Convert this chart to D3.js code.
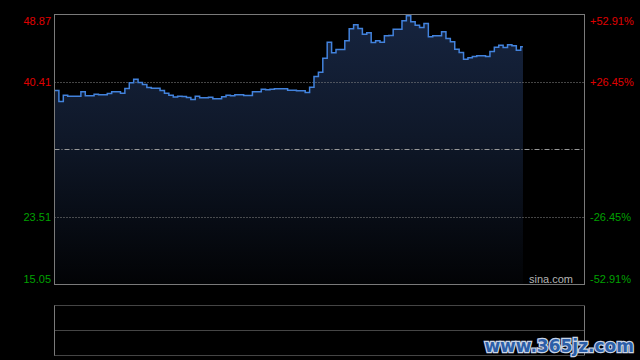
<!DOCTYPE html>
<html>
<head>
<meta charset="utf-8">
<script src="https://cdn.jsdelivr.net/npm/d3@7/dist/d3.min.js"></script>
<style>
  html, body { margin: 0; padding: 0; background: #000; }
  svg { display: block; }
</style>
</head>
<body>
<div id="chart"></div>
<script>
// 价格数据（每2分钟一个点）
const prices = [
  39.35, 37.98, 38.76, 38.64, 38.64, 38.64, 39.19, 38.69, 38.69, 38.89,
  38.81, 38.81, 38.97, 39.19, 39.19, 39.01, 39.60, 40.32, 40.77, 40.35,
  40.10, 39.73, 39.64, 39.64, 39.35, 39.01, 38.76, 38.55, 38.64, 38.60,
  38.47, 38.22, 38.64, 38.44, 38.44, 38.51, 38.31, 38.31, 38.57, 38.76,
  38.69, 38.81, 38.81, 38.73, 38.73, 39.19, 39.19, 39.51, 39.44, 39.51,
  39.56, 39.56, 39.56, 39.39, 39.39, 39.31, 39.31, 39.10, 39.76, 41.10,
  41.64, 43.40, 45.40, 44.07, 44.49, 44.49, 45.58, 47.08, 47.58, 47.12,
  46.40, 46.58, 45.36, 45.58, 45.40, 46.20, 46.24, 47.03, 47.03, 48.08,
  48.70, 47.96, 47.53, 47.24, 47.74, 46.08, 46.20, 46.20, 46.70, 45.86,
  45.45, 44.52, 44.11, 43.27, 43.45, 43.61, 43.70, 43.70, 43.61, 44.24,
  44.78, 45.03, 44.74, 45.07, 44.95, 44.40, 44.83
];
const basePrice = 31.96;
const priceTicks = [48.87, 40.41, 23.51, 15.05];
const priceLabels = ["48.87", "40.41", "23.51", "15.05"];
const pctLabels = ["+52.91%", "+26.45%", "-26.45%", "-52.91%"];
const totalMinutes = 241;

const W = 640, H = 360;
const plot = { left: 54.5, right: 584.5, top: 14.5, bottom: 284.5 };
const vol = { top: 305.5, bottom: 355.5 };

const svg = d3.select("#chart").append("svg")
  .attr("width", W)
  .attr("height", H);

svg.append("rect").attr("width", W).attr("height", H).attr("fill", "#000");

const x = d3.scaleLinear().domain([0, totalMinutes]).range([plot.left, plot.right]);
const y = d3.scaleLinear().domain([priceTicks[3], priceTicks[0]]).range([plot.bottom, plot.top]);

// 渐变填充
const grad = svg.append("defs").append("linearGradient")
  .attr("id", "areaGrad")
  .attr("gradientUnits", "userSpaceOnUse")
  .attr("x1", 0).attr("y1", plot.top)
  .attr("x2", 0).attr("y2", plot.bottom);
grad.append("stop").attr("offset", "0%").attr("stop-color", "#16243f");
grad.append("stop").attr("offset", "45%").attr("stop-color", "#0f1829");
grad.append("stop").attr("offset", "100%").attr("stop-color", "#020305");

// 点序列：每个价格在 2*i 分钟，最后一段延伸一分钟
const pts = prices.map((p, i) => ({ m: i * 2, p }));
pts.push({ m: (prices.length - 1) * 2 + 1, p: prices[prices.length - 1] });

const area = d3.area()
  .curve(d3.curveStepAfter)
  .x(d => x(d.m))
  .y0(plot.bottom)
  .y1(d => y(d.p));

const line = d3.line()
  .curve(d3.curveStepAfter)
  .x(d => x(d.m))
  .y(d => y(d.p));

svg.append("path")
  .datum(pts)
  .attr("d", area)
  .attr("fill", "url(#areaGrad)")
  .attr("shape-rendering", "crispEdges");

// 网格线
const gridVals = [priceTicks[1], priceTicks[2]];
svg.selectAll(".grid")
  .data(gridVals)
  .join("line")
  .attr("class", "grid")
  .attr("x1", plot.left).attr("x2", plot.right)
  .attr("y1", d => Math.round(y(d)) + 0.5)
  .attr("y2", d => Math.round(y(d)) + 0.5)
  .attr("stroke", "#8a8a8a")
  .attr("stroke-width", 1)
  .attr("stroke-dasharray", "1,2");

// 昨收线（点划线）
svg.append("line")
  .attr("x1", plot.left).attr("x2", plot.right)
  .attr("y1", Math.round(y(basePrice)) + 0.5)
  .attr("y2", Math.round(y(basePrice)) + 0.5)
  .attr("stroke", "#9a9a9a")
  .attr("stroke-width", 1)
  .attr("stroke-dasharray", "5,2,1,2");

svg.append("path")
  .datum(pts)
  .attr("d", line)
  .attr("fill", "none")
  .attr("stroke", "#4282dc")
  .attr("stroke-width", 1.5);

// 边框
svg.append("rect")
  .attr("x", plot.left).attr("y", plot.top)
  .attr("width", plot.right - plot.left)
  .attr("height", plot.bottom - plot.top)
  .attr("fill", "none")
  .attr("stroke", "#7a7a7a")
  .attr("stroke-width", 1);

// 左侧价格标签
const labelDy = [6, 0, 0, -6];
svg.selectAll(".ptxt")
  .data(priceTicks)
  .join("text")
  .attr("class", "ptxt")
  .attr("x", 51)
  .attr("y", (d, i) => y(d) + labelDy[i])
  .attr("text-anchor", "end")
  .attr("dominant-baseline", "central")
  .attr("font-family", "Liberation Sans, Arial, sans-serif")
  .attr("font-size", 11)
  .attr("fill", d => d > basePrice ? "#e00000" : "#00a000")
  .text((d, i) => priceLabels[i]);

// 右侧涨跌幅标签
svg.selectAll(".pct")
  .data(priceTicks)
  .join("text")
  .attr("class", "pct")
  .attr("x", 590)
  .attr("y", (d, i) => y(d) + labelDy[i])
  .attr("text-anchor", "start")
  .attr("dominant-baseline", "central")
  .attr("font-family", "Liberation Sans, Arial, sans-serif")
  .attr("font-size", 11)
  .attr("fill", d => d > basePrice ? "#e00000" : "#00a000")
  .text((d, i) => pctLabels[i]);

svg.append("text")
  .attr("x", 573)
  .attr("y", 279)
  .attr("text-anchor", "end")
  .attr("dominant-baseline", "central")
  .attr("font-family", "Liberation Sans, Arial, sans-serif")
  .attr("font-size", 11)
  .attr("fill", "#b4b4b4")
  .text("sina.com");

// 成交量面板
const volLines = [vol.top, (vol.top + vol.bottom) / 2, vol.bottom];
svg.selectAll(".vgrid")
  .data(volLines)
  .join("line")
  .attr("class", "vgrid")
  .attr("x1", plot.left).attr("x2", plot.right)
  .attr("y1", d => Math.floor(d) + 0.5)
  .attr("y2", d => Math.floor(d) + 0.5)
  .attr("stroke", "#8a8a8a")
  .attr("stroke-dasharray", "1,1");

[plot.left, plot.right].forEach(px => {
  svg.append("line")
    .attr("x1", px).attr("x2", px)
    .attr("y1", vol.top).attr("y2", vol.bottom)
    .attr("stroke", "#7a7a7a");
});

// 水印
svg.append("text")
  .attr("x", 634)
  .attr("y", 346)
  .attr("text-anchor", "end")
  .attr("dominant-baseline", "central")
  .attr("font-family", "DejaVu Sans, sans-serif")
  .attr("font-weight", "bold")
  .attr("font-size", 17)
  .attr("fill", "#2b5ea8")
  .attr("stroke", "#c8d4e6")
  .attr("stroke-width", 2.5)
  .attr("paint-order", "stroke")
  .text("www.365jz.com");
</script>
</body>
</html>
